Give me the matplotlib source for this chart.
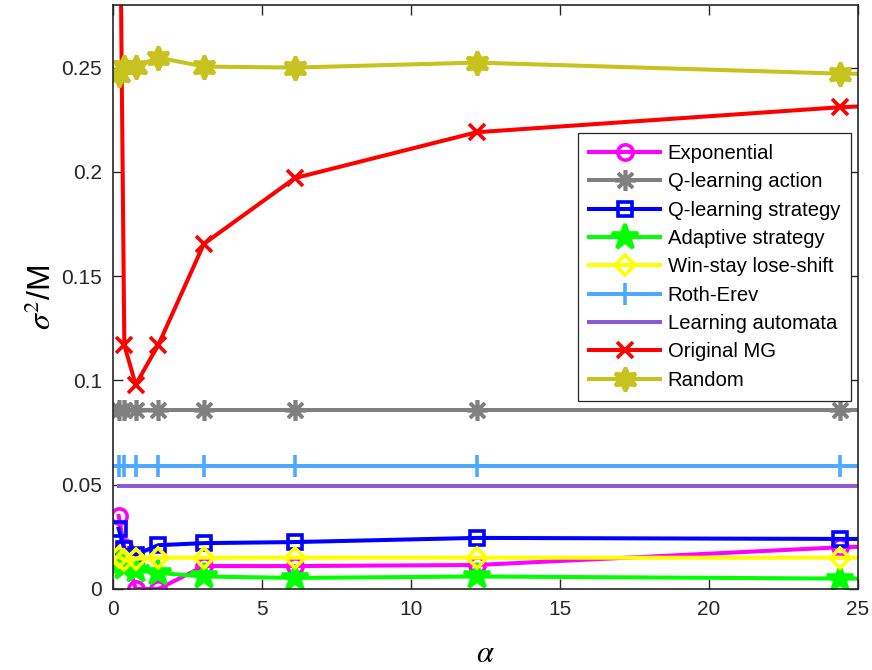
import matplotlib
matplotlib.use("Agg")
import matplotlib.pyplot as plt

plt.rcParams['font.family'] = ['Liberation Sans', 'DejaVu Sans']
plt.rcParams['mathtext.fontset'] = 'stix'

# alpha values (last point lies beyond the visible x-range)
alpha = [0.19, 0.38, 0.76, 1.52, 3.05, 6.1, 12.2, 24.4, 48.8]

exponential = [0.035, 0.020, 0.0, 0.0, 0.011, 0.011, 0.0115, 0.020, 0.030]
q_action = [0.0859] * 9
q_strategy = [0.029, 0.019, 0.0165, 0.021, 0.022, 0.0225, 0.0245, 0.024, 0.024]
adaptive = [0.0125, 0.0105, 0.009, 0.0077, 0.006, 0.0053, 0.006, 0.005, 0.005]
win_stay = [0.0155, 0.014, 0.0145, 0.015, 0.015, 0.015, 0.015, 0.015, 0.015]
roth_erev = [0.0592] * 9
learning_automata = [0.0492] * 9
original_mg = [0.40, 0.117, 0.098, 0.117, 0.1655, 0.197, 0.219, 0.231, 0.245]
random_ = [0.2466, 0.2505, 0.2505, 0.2548, 0.2505, 0.250, 0.2524, 0.2471, 0.246]

labels = ['Exponential', 'Q-learning action', 'Q-learning strategy',
          'Adaptive strategy', 'Win-stay lose-shift', 'Roth-Erev',
          'Learning automata', 'Original MG', 'Random']
xticks = [0, 5, 10, 15, 20, 25]
yticks = [0, 0.05, 0.1, 0.15, 0.2, 0.25]
ytick_labels = ['0', '0.05', '0.1', '0.15', '0.2', '0.25']

fig = plt.figure(figsize=(8.72, 6.70), dpi=100)
ax = fig.add_axes([0.1296, 0.1209, 0.8544, 0.8716])

lw = 2.9
mew = 2.6
series = [
    (exponential, '#FF00FF', 'o', 11, 'none'),
    (q_action, '#808080', (8, 2, 0), 15, None),
    (q_strategy, '#0000FF', 's', 10, 'none'),
    (adaptive, '#00FF00', '*', 19, None),
    (win_stay, '#FFFF00', 'D', 10, 'none'),
    (roth_erev, '#4DA9FF', '+', 16, None),
    (learning_automata, '#8E58D8', None, 0, None),
    (original_mg, '#FF0000', 'x', 12, None),
    (random_, '#C8C21E', (6, 1, 0), 17, None),
]
for (vals, col, mk, ms, mfc), lab in zip(series, labels):
    kw = dict(color=col, lw=lw, label=lab)
    if mk is not None:
        kw.update(marker=mk, markersize=ms, markeredgewidth=mew)
        if mfc is not None:
            kw['markerfacecolor'] = mfc
    ax.plot(alpha, vals, **kw)

ax.set_xlim(0, 25)
ax.set_ylim(0, 0.28)
ax.set_xticks(xticks)
ax.set_yticks(yticks)
ax.set_yticklabels(ytick_labels)
ax.tick_params(direction='in', length=7, width=1, top=True, right=True,
               labelsize=15, pad=8, colors='#262626')
for s in ax.spines.values():
    s.set_linewidth(1.2)
    s.set_color('#262626')

ax.set_xlabel(r'$\alpha$', fontsize=22, labelpad=14)
ax.set_ylabel(r'$\sigma^2$/M', fontsize=23, labelpad=2)

leg = ax.legend(loc='upper right', bbox_to_anchor=(0.9906, 0.781),
                borderaxespad=0, fontsize=14.6, numpoints=1, fancybox=False,
                framealpha=1, edgecolor='#262626', handlelength=3.5,
                handletextpad=0.35, labelspacing=0.46, borderpad=0.55)
leg.get_frame().set_linewidth(0.9)

fig.savefig('out.png', dpi=100)
